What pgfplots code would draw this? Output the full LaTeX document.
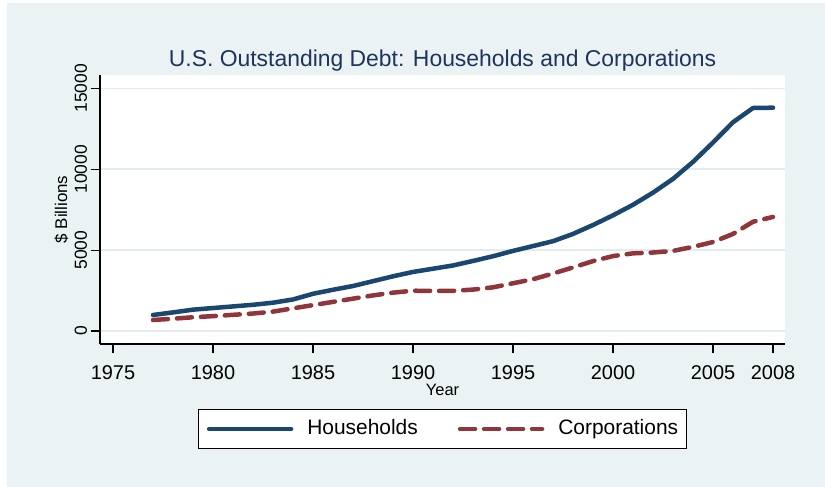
\documentclass[border=0pt]{standalone}
\usepackage{pgfplots}
\pgfplotsset{compat=1.18}
\usepackage{fontspec}
\setmainfont{Liberation Sans}
\definecolor{bgc}{RGB}{234,242,243}
\definecolor{gridc}{RGB}{226,236,239}
\definecolor{hh}{RGB}{26,71,111}
\definecolor{corp}{RGB}{144,53,59}
\definecolor{titlec}{RGB}{30,52,92}
\begin{document}
\begin{tikzpicture}[x=1bp,y=1bp]
\fill[white] (0,0) rectangle (825,487);
\fill[bgc] (7,0) rectangle (825,484);
\begin{axis}[
  at={(100bp,143bp)}, anchor=south west,
  width=685bp, height=269bp, scale only axis,
  xmin=1974.35, xmax=2008.6, ymin=-802, ymax=15820,
  scaled ticks=false,
  axis background/.style={fill=white},
  axis x line=bottom, axis y line=left,
  axis line style={-, line width=1.2bp, black},
  tick align=outside, major tick length=9.5bp,
  tick style={line width=1.1bp, black},
  xtick={1975,1980,1985,1990,1995,2000,2005,2008},
  ytick={0,5000,10000,15000},
  /pgf/number format/assume math mode=true,
  /pgf/number format/set thousands separator={},
  xticklabel style={font=\fontsize{20}{24}\selectfont, yshift=-9bp},
  yticklabel style={font=\fontsize{17.5}{21}\selectfont, rotate=90, anchor=south},
  ymajorgrids, grid style={gridc, line width=1.5bp},
  title={U.S. Outstanding Debt: Households and Corporations},
  every axis title/.style={at={(0.5,1.0297)}, anchor=base, font=\fontsize{23}{28}\selectfont, text=titlec},
  xlabel={Year},
  every axis x label/.style={at={(0.5,-0.1933)}, anchor=base, font=\fontsize{16.5}{20}\selectfont},
  ylabel={\$ Billions},
  every axis y label/.style={at={(-0.048,0.5)}, rotate=90, anchor=base, font=\fontsize{17}{20}\selectfont},
  legend columns=2,
  legend style={at={(0.5,-0.2416)}, anchor=north, draw=black, line width=0.8bp, fill=white,
    font=\fontsize{21}{25}\selectfont, inner xsep=8bp, inner ysep=10bp,
    nodes={inner sep=0pt, text height=15bp, text depth=4bp},
    /tikz/every odd column/.append style={column sep=14bp},
    /tikz/every even column/.append style={column sep=40bp}},
  legend image code/.code={\draw[#1] (0bp,0bp) -- (82bp,0bp);},
]
\addplot[hh, line width=4.5bp, line cap=round, line join=round] coordinates {
(1977,990) (1978,1150) (1979,1320) (1980,1420) (1981,1520) (1982,1620) (1983,1750) (1984,1950)
(1985,2300) (1986,2550) (1987,2780) (1988,3080) (1989,3380) (1990,3650) (1991,3850) (1992,4050)
(1993,4330) (1994,4620) (1995,4950) (1996,5250) (1997,5550) (1998,6000) (1999,6550) (2000,7150)
(2001,7800) (2002,8550) (2003,9400) (2004,10450) (2005,11650) (2006,12900) (2007,13780) (2008,13800)
};
\addlegendentry{Households}
\addplot[corp, line width=4.5bp, line cap=round, line join=round, dash pattern=on 15bp off 9bp] coordinates {
(1977,680) (1978,760) (1979,850) (1980,920) (1981,1000) (1982,1080) (1983,1200) (1984,1400)
(1985,1600) (1986,1800) (1987,2000) (1988,2200) (1989,2370) (1990,2490) (1991,2480) (1992,2480)
(1993,2560) (1994,2700) (1995,2950) (1996,3200) (1997,3550) (1998,3930) (1999,4320) (2000,4630)
(2001,4800) (2002,4850) (2003,4950) (2004,5200) (2005,5500) (2006,6000) (2007,6750) (2008,7050)
};
\addlegendentry{Corporations}
\end{axis}
\end{tikzpicture}
\end{document}
